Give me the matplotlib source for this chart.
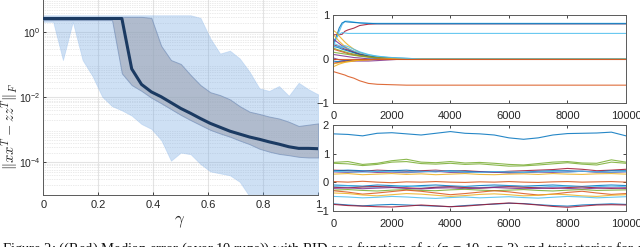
import numpy as np
import matplotlib
matplotlib.use("Agg")
import matplotlib.pyplot as plt
from matplotlib.ticker import LogLocator, NullFormatter, FixedLocator

plt.rcParams['font.family'] = ['Liberation Sans', 'DejaVu Sans']
plt.rcParams['mathtext.fontset'] = 'cm'

# ---------------- left panel data (log10 of error) ----------------
gamma = np.linspace(0, 1, 29)
median_log = [0.43, 0.43, 0.43, 0.43, 0.43, 0.43, 0.43, 0.43, 0.43, -1.12, -1.60, -1.83,
              -1.98, -2.16, -2.34, -2.49, -2.65, -2.80, -2.92, -3.04, -3.13, -3.22, -3.29,
              -3.37, -3.44, -3.52, -3.57, -3.57, -3.58]
inner_hi_log = [0.48, 0.48, 0.48, 0.48, 0.48, 0.48, 0.48, 0.48, 0.48, 0.48, 0.48, 0.45,
                -0.41, -0.85, -0.97, -1.31, -1.62, -1.84, -1.93, -2.06, -2.27, -2.44, -2.51,
                -2.59, -2.65, -2.75, -2.88, -2.84, -2.80]
inner_lo_log = [0.38, 0.38, 0.38, 0.38, 0.38, 0.38, 0.38, 0.38, -1.26, -1.62, -1.80, -2.01,
                -2.18, -2.36, -2.54, -2.70, -2.85, -3.00, -3.11, -3.21, -3.33, -3.44, -3.58,
                -3.67, -3.74, -3.78, -3.83, -3.85, -3.85]
outer_hi_log = [0.53, 0.53, 0.53, 0.53, 0.53, 0.53, 0.53, 0.53, 0.53, 0.53, 0.53, 0.53,
                0.53, 0.53, 0.53, 0.53, 0.45, -0.18, -0.65, -0.56, -0.80, -1.21, -1.72,
                -1.80, -1.65, -1.95, -1.55, -1.75, -1.91]
outer_lo_log = [0.33, 0.33, -0.85, 0.33, -0.85, -1.34, -1.98, -2.27, -2.40, -2.56, -2.82,
                -2.97, -3.31, -3.95, -3.70, -3.75, -4.05, -4.28, -4.34, -4.40, -4.60, -5.05,
                -6.0, -6.0, -6.0, -6.0, -6.0, -6.0, -6.0]
left_xticks = [0, 0.2, 0.4, 0.6, 0.8, 1]
left_xticklabels = ['0', '0.2', '0.4', '0.6', '0.8', '1']
left_yticks = [1e-4, 1e-2, 1e0]
left_yticklabels = ['$\\mathregular{10^{-4}}$', '$\\mathregular{10^{-2}}$', '$\\mathregular{10^{0}}$']

# ---------------- right-top trajectories ----------------
t_top = [0, 100, 200, 300, 400, 500, 700, 900, 1200, 1500, 2000, 2500, 3000, 10000]
top_lines = [
    ('#a2142f', [0.55, 0.55, 0.55, 0.56, 0.63, 0.66, 0.70, 0.76, 0.79, 0.80, 0.80, 0.80, 0.80, 0.80]),
    ('#4dbeee', [0.30, 0.45, 0.62, 0.78, 0.86, 0.86, 0.84, 0.82, 0.81, 0.81, 0.81, 0.81, 0.81, 0.81]),
    ('#0072bd', [0.35, 0.50, 0.70, 0.82, 0.85, 0.84, 0.83, 0.82, 0.81, 0.80, 0.80, 0.80, 0.80, 0.80]),
    ('#4dbeee', [0.40, 0.48, 0.56, 0.60, 0.59, 0.58, 0.58, 0.58, 0.58, 0.58, 0.58, 0.58, 0.58, 0.58]),
    ('#d95319', [-0.29, -0.31, -0.33, -0.35, -0.37, -0.40, -0.44, -0.50, -0.56, -0.58, -0.59, -0.60, -0.60, -0.60]),
    ('#edb120', [0.65, 0.60, 0.52, 0.45, 0.38, 0.32, 0.22, 0.15, 0.08, 0.04, 0.01, 0.0, 0.0, 0.0]),
    ('#edb120', [0.55, 0.48, 0.40, 0.34, 0.28, 0.24, 0.17, 0.12, 0.07, 0.03, 0.01, 0.0, 0.0, 0.0]),
    ('#7e2f8e', [0.45, 0.40, 0.35, 0.30, 0.26, 0.22, 0.16, 0.11, 0.06, 0.03, 0.01, 0.0, 0.0, 0.0]),
    ('#a2142f', [0.32, 0.30, 0.28, 0.25, 0.22, 0.20, 0.15, 0.10, 0.06, 0.03, 0.01, 0.0, 0.0, 0.0]),
    ('#0072bd', [0.28, 0.27, 0.25, 0.22, 0.20, 0.18, 0.14, 0.10, 0.06, 0.04, 0.02, 0.01, 0.0, 0.0]),
    ('#4dbeee', [0.35, 0.33, 0.30, 0.28, 0.30, 0.28, 0.22, 0.16, 0.10, 0.06, 0.02, 0.01, 0.0, 0.0]),
    ('#77ac30', [0.25, 0.22, 0.20, 0.18, 0.16, 0.14, 0.11, 0.08, 0.05, 0.03, 0.01, 0.0, 0.0, 0.0]),
    ('#d95319', [0.22, 0.20, 0.18, 0.16, 0.14, 0.12, 0.09, 0.07, 0.04, 0.02, 0.01, 0.0, 0.0, 0.0]),
    ('#77ac30', [0.15, 0.14, 0.13, 0.12, 0.11, 0.10, 0.08, 0.06, 0.04, 0.02, 0.01, 0.0, 0.0, 0.0]),
    ('#7e2f8e', [0.10, 0.09, 0.08, 0.07, 0.06, 0.05, 0.03, 0.02, 0.0, -0.01, -0.01, 0.0, 0.0, 0.0]),
    ('#7e2f8e', [0.02, 0.0, -0.02, -0.03, -0.04, -0.05, -0.05, -0.05, -0.05, -0.04, -0.02, 0.0, 0.0, 0.0]),
    ('#0072bd', [-0.05, -0.06, -0.06, -0.05, -0.05, -0.04, -0.03, -0.02, -0.01, 0.0, 0.0, 0.0, 0.0, 0.0]),
    ('#a2142f', [-0.10, -0.09, -0.08, -0.07, -0.06, -0.05, -0.04, -0.03, -0.02, -0.01, 0.0, 0.0, 0.0, 0.0]),
    ('#edb120', [-0.18, -0.15, -0.12, -0.10, -0.08, -0.07, -0.05, -0.03, -0.02, -0.01, 0.0, 0.0, 0.0, 0.0]),
    ('#edb120', [-0.12, -0.10, -0.09, -0.08, -0.07, -0.06, -0.04, -0.03, -0.02, -0.01, 0.0, 0.0, 0.0, 0.0]),
    ('#4dbeee', [0.30, 0.28, 0.27, 0.26, 0.25, 0.23, 0.18, 0.14, 0.09, 0.06, 0.03, 0.01, 0.0, 0.0]),
    ('#d95319', [0.0, 0.0, 0.0, 0.0, 0.0, 0.0, 0.0, 0.0, 0.0, 0.0, 0.0, 0.0, 0.0, 0.0]),
]

# ---------------- right-bottom trajectories ----------------
t_bot = [0, 500, 1000, 1500, 2000, 2500, 3000, 3500, 4000, 4500, 5000,
         5500, 6000, 6500, 7000, 7500, 8000, 8500, 9000, 9500, 10000]
bot_lines = [
    ('#0072bd', [1.69, 1.67, 1.62, 1.71, 1.73, 1.69, 1.65, 1.71, 1.77, 1.71, 1.69, 1.65, 1.55, 1.50, 1.55, 1.65, 1.70, 1.71, 1.72, 1.75, 1.62]),
    ('#77ac30', [0.69, 0.72, 0.62, 0.66, 0.75, 0.80, 0.70, 0.68, 0.72, 0.67, 0.69, 0.66, 0.62, 0.60, 0.65, 0.70, 0.72, 0.67, 0.66, 0.78, 0.70]),
    ('#77ac30', [0.66, 0.64, 0.58, 0.62, 0.70, 0.72, 0.65, 0.63, 0.66, 0.62, 0.64, 0.60, 0.56, 0.57, 0.60, 0.64, 0.68, 0.63, 0.60, 0.70, 0.66]),
    ('#a2142f', [0.42, 0.40, 0.38, 0.42, 0.40, 0.38, 0.40, 0.42, 0.38, 0.40, 0.37, 0.35, 0.38, 0.40, 0.42, 0.44, 0.48, 0.45, 0.40, 0.42, 0.45]),
    ('#0072bd', [0.40, 0.42, 0.40, 0.38, 0.40, 0.42, 0.38, 0.36, 0.40, 0.38, 0.36, 0.36, 0.34, 0.35, 0.38, 0.40, 0.40, 0.38, 0.36, 0.40, 0.40]),
    ('#7e2f8e', [0.36, 0.34, 0.37, 0.34, 0.35, 0.33, 0.36, 0.38, 0.34, 0.33, 0.36, 0.35, 0.32, 0.33, 0.35, 0.34, 0.36, 0.38, 0.35, 0.34, 0.36]),
    ('#4dbeee', [0.38, 0.36, 0.35, 0.38, 0.37, 0.35, 0.36, 0.39, 0.37, 0.35, 0.34, 0.37, 0.36, 0.34, 0.36, 0.37, 0.35, 0.38, 0.36, 0.35, 0.37]),
    ('#edb120', [0.28, 0.30, 0.26, 0.28, 0.30, 0.27, 0.29, 0.26, 0.28, 0.30, 0.27, 0.26, 0.28, 0.29, 0.27, 0.30, 0.28, 0.27, 0.29, 0.30, 0.28]),
    ('#d95319', [0.02, 0.00, 0.03, 0.00, -0.02, 0.01, 0.00, 0.02, 0.00, -0.01, 0.01, 0.00, 0.02, 0.00, -0.01, 0.01, 0.02, 0.00, 0.01, 0.02, 0.00]),
    ('#0072bd', [-0.10, -0.12, -0.14, -0.10, -0.12, -0.15, -0.12, -0.10, -0.13, -0.15, -0.12, -0.10, -0.12, -0.14, -0.12, -0.10, -0.13, -0.15, -0.12, -0.10, -0.12]),
    ('#4dbeee', [-0.15, -0.13, -0.16, -0.18, -0.15, -0.13, -0.16, -0.18, -0.15, -0.17, -0.19, -0.16, -0.14, -0.16, -0.18, -0.15, -0.14, -0.17, -0.16, -0.14, -0.16]),
    ('#a2142f', [-0.18, -0.20, -0.17, -0.15, -0.18, -0.20, -0.22, -0.18, -0.16, -0.19, -0.21, -0.18, -0.16, -0.18, -0.20, -0.22, -0.19, -0.17, -0.20, -0.22, -0.20]),
    ('#7e2f8e', [-0.22, -0.20, -0.23, -0.21, -0.19, -0.22, -0.24, -0.21, -0.20, -0.23, -0.21, -0.19, -0.21, -0.23, -0.22, -0.20, -0.22, -0.24, -0.21, -0.20, -0.22]),
    ('#77ac30', [-0.28, -0.26, -0.29, -0.31, -0.28, -0.26, -0.29, -0.30, -0.27, -0.25, -0.28, -0.30, -0.28, -0.26, -0.29, -0.31, -0.28, -0.26, -0.29, -0.28, -0.27]),
    ('#d95319', [-0.30, -0.35, -0.42, -0.38, -0.33, -0.28, -0.32, -0.38, -0.44, -0.40, -0.35, -0.30, -0.34, -0.40, -0.45, -0.42, -0.36, -0.32, -0.38, -0.43, -0.40]),
    ('#edb120', [-0.38, -0.40, -0.45, -0.48, -0.44, -0.40, -0.42, -0.46, -0.50, -0.47, -0.43, -0.41, -0.44, -0.48, -0.46, -0.42, -0.44, -0.48, -0.50, -0.46, -0.44]),
    ('#4dbeee', [-0.50, -0.52, -0.55, -0.53, -0.50, -0.52, -0.55, -0.57, -0.54, -0.52, -0.55, -0.53, -0.51, -0.54, -0.56, -0.53, -0.50, -0.52, -0.55, -0.53, -0.51]),
    ('#0072bd', [-0.76, -0.80, -0.83, -0.80, -0.78, -0.80, -0.82, -0.84, -0.86, -0.82, -0.79, -0.77, -0.74, -0.75, -0.79, -0.82, -0.84, -0.80, -0.78, -0.76, -0.78]),
    ('#a2142f', [-0.78, -0.82, -0.84, -0.86, -0.87, -0.84, -0.80, -0.83, -0.86, -0.84, -0.80, -0.76, -0.73, -0.76, -0.80, -0.85, -0.88, -0.84, -0.80, -0.79, -0.80]),
]
right_xticks = [0, 2000, 4000, 6000, 8000, 10000]

caption = ("Figure 2: ((Red) Median error (over 10 runs)) with RID as a function of "
           "$\\gamma$ (n = 10, r = 3) and trajectories for $\\gamma$ = 0.875 ...")

# ---------------- figure ----------------
fig = plt.figure(figsize=(6.4, 2.47), dpi=100)
tick_color = '#262626'
spine_color = '#5a5a5a'

axL = fig.add_axes([43.3 / 640, 1 - 194.8 / 247, 275 / 640, 194.8 / 247])
g = np.asarray(gamma)
axL.fill_between(g, 10 ** np.asarray(outer_lo_log), 10 ** np.asarray(outer_hi_log),
                 facecolor=(0.457, 0.657, 0.886), alpha=0.35,
                 edgecolor=(0.55, 0.72, 0.92), linewidth=0.6, zorder=2)
axL.fill_between(g, 10 ** np.asarray(inner_lo_log), 10 ** np.asarray(inner_hi_log),
                 facecolor=(0.61, 0.64, 0.70), alpha=0.6,
                 edgecolor=(0.42, 0.53, 0.70), linewidth=0.7, zorder=3)
axL.plot(g, 10 ** np.asarray(median_log), color='#1b3a62', linewidth=2.2, zorder=4)
axL.set_yscale('log')
axL.set_xlim(0, 1)
axL.set_ylim(1e-5, 10 ** 1.0)
axL.set_xticks(left_xticks)
axL.set_xticklabels(left_xticklabels)
axL.yaxis.set_major_locator(FixedLocator(left_yticks))
axL.set_yticklabels(left_yticklabels)
axL.yaxis.set_minor_locator(LogLocator(base=10, subs=np.arange(2, 10), numticks=20))
axL.yaxis.set_minor_formatter(NullFormatter())
axL.grid(True, which='major', color='#e3e3e3', linewidth=0.8, zorder=0)
axL.grid(True, which='minor', axis='y', color='#d6d6d6', linewidth=0.5,
         linestyle=(0, (1, 1.5)), zorder=0)
axL.set_axisbelow(True)
axL.tick_params(axis='both', which='both', direction='in', labelsize=8,
                colors=tick_color, length=2.5, width=0.6)
axL.tick_params(axis='y', which='minor', length=0)
axL.tick_params(axis='x', pad=3.5)
axL.tick_params(axis='y', pad=2, labelsize=7.5)
for s in ['top', 'right']:
    axL.spines[s].set_visible(False)
for s in ['left', 'bottom']:
    axL.spines[s].set_color(spine_color)
    axL.spines[s].set_linewidth(0.7)
fig.text(180 / 640, 1 - 222 / 247, '$\\gamma$', fontsize=12, ha='center', va='center',
         color=tick_color)
fig.text(9.5 / 640, 1 - 126 / 247, '$\\|xx^T - zz^T\\|_F$', fontsize=10.5, rotation=90,
         ha='center', va='center', color=tick_color)

def style_right(ax, ylim, yticks, xpad):
    ax.set_xlim(0, 10000)
    ax.set_ylim(*ylim)
    ax.set_xticks(right_xticks)
    ax.set_yticks(yticks)
    ax.tick_params(axis='both', direction='in', labelsize=8, colors=tick_color,
                   length=2.5, width=0.6, top=True, right=True)
    ax.tick_params(axis='x', pad=xpad)
    ax.tick_params(axis='y', pad=3)
    for s in ax.spines.values():
        s.set_color(spine_color)
        s.set_linewidth(0.7)

axT = fig.add_axes([333.3 / 640, 1 - 102.7 / 247, 292.7 / 640, 87.7 / 247])
for col, vals in top_lines:
    axT.plot(t_top, vals, color=col, linewidth=0.8, alpha=0.85)
style_right(axT, (-1, 1), [-1, 0, 1], 6)

axB = fig.add_axes([333.3 / 640, 1 - 210.7 / 247, 292.7 / 640, 85.7 / 247])
for col, vals in bot_lines:
    axB.plot(t_bot, vals, color=col, linewidth=0.8, alpha=0.85)
style_right(axB, (-1, 2), [-1, 0, 1, 2], 6)

fig.text(2 / 640, 1 - 240.5 / 247, caption, fontsize=10.5, ha='left', va='top',
         family=['Liberation Serif', 'DejaVu Serif'], color='#111111')

fig.savefig('out.png', dpi=100)
